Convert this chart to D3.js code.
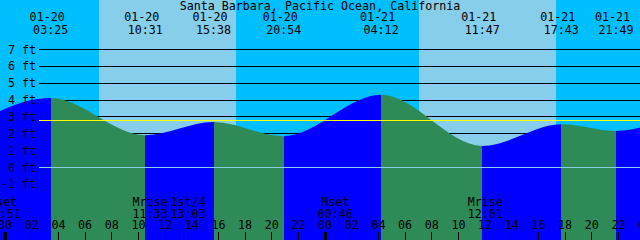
<!DOCTYPE html>
<html>
<head>
<meta charset="utf-8">
<script src="https://cdn.jsdelivr.net/npm/d3@7"></script>
<style>
    html, body { margin: 0; padding: 0; background: #fff; }
    #chart { width: 640px; height: 240px; }
    svg { display: block; }
    text { font-family: "DejaVu Sans Mono", "Liberation Mono", monospace; font-size: 11.67px; fill: #000; }
</style>
</head>
<body>
<div id="chart"></div>
<script>

// station + time window shown
const stationName = "Santa Barbara, Pacific Ocean, California";
const windowStart = "01-19 23:37";
const windowEnd = "01-21 23:37";

// high / low tides (first and last are just outside the window)
const tideDates = ["01-19", "01-20", "01-20", "01-20", "01-20", "01-21", "01-21", "01-21", "01-21", "01-22"];
const tideTimes = ["20:05", "03:25", "10:31", "15:38", "20:54", "04:12", "11:47", "17:43", "21:49", "04:55"];
const tideFeet = [1.8, 4.13, 1.92, 2.70, 1.86, 4.31, 1.28, 2.57, 2.17, 4.4];

// sunrise / sunset
const sunDates = ["01-20", "01-20", "01-21", "01-21"];
const sunTimes = ["07:03", "17:19", "07:03", "17:20"];

// moon events
const moonNames = ["Mset", "Mrise", "1st/4", "Mset", "Mrise"];
const moonDates = ["01-19", "01-20", "01-20", "01-21", "01-21"];
const moonTimes = ["23:51", "11:33", "13:03", "00:46", "12:01"];

// levels
const feetLevels = [-1, 0, 1, 2, 3, 4, 5, 6, 7];
const meanSeaLevel = 2.79;

class TideVis {

    constructor(parentElement) {
        this.parentElement = parentElement;
        this.initVis();
    }

    initVis() {
        let vis = this;

        vis.width = 640;
        vis.height = 240;
        vis.gridLeft = 39;

        vis.svg = d3.select("#" + vis.parentElement)
            .append("svg")
            .attr("width", vis.width)
            .attr("height", vis.height);

        vis.parse = d3.utcParse("%m-%d %H:%M");

        vis.x = d3.scaleUtc()
            .domain([vis.parse(windowStart), vis.parse(windowEnd)])
            .range([0, vis.width]);

        // 0 ft and 7 ft rows
        vis.y = d3.scaleLinear()
            .domain([0, 7])
            .range([167.5, 49.5]);

        vis.wrangleData();
    }

    wrangleData() {
        let vis = this;

        vis.tides = tideTimes.map((t, i) => ({
            time: vis.parse(tideDates[i] + " " + t),
            date: tideDates[i],
            label: t,
            ft: tideFeet[i]
        }));

        vis.sun = sunTimes.map((t, i) => vis.parse(sunDates[i] + " " + t));

        vis.moon = moonTimes.map((t, i) => ({
            time: vis.parse(moonDates[i] + " " + t),
            name: moonNames[i],
            label: t
        }));

        vis.updateVis();
    }

    updateVis() {
        let vis = this;
        let x = vis.x, y = vis.y;
        let crisp = v => Math.floor(v) + 0.5;

        // SKY: night / day bands
        let bounds = [x.domain()[0]].concat(vis.sun, [x.domain()[1]]);
        let bands = d3.pairs(bounds).map((p, i) => ({start: p[0], end: p[1], day: i % 2 === 1}));

        vis.svg.selectAll(".sky")
            .data(bands)
            .enter()
            .append("rect")
            .attr("class", "sky")
            .attr("x", d => Math.round(x(d.start)))
            .attr("y", 0)
            .attr("width", d => Math.round(x(d.end)) - Math.round(x(d.start)))
            .attr("height", vis.height)
            .attr("fill", d => d.day ? "#87CEEB" : "#00BFFF");

        // GRID LINES (under the water)
        vis.svg.selectAll(".grid")
            .data(feetLevels.filter(v => v !== 0))
            .enter()
            .append("line")
            .attr("class", "grid")
            .attr("x1", vis.gridLeft)
            .attr("x2", vis.width)
            .attr("y1", d => crisp(y(d)))
            .attr("y2", d => crisp(y(d)))
            .attr("stroke", "#000")
            .attr("stroke-width", 1);

        // WATER: blue while rising, green while falling
        let area = d3.area()
            .x(d => x(d.time))
            .y0(vis.height)
            .y1(d => y(d.ft))
            .curve(d3.curveMonotoneX);

        let segments = d3.pairs(vis.tides);

        let defs = vis.svg.append("defs");
        defs.selectAll("clipPath")
            .data(segments)
            .enter()
            .append("clipPath")
            .attr("id", (d, i) => "seg" + i)
            .append("rect")
            .attr("x", d => Math.round(x(d[0].time)))
            .attr("y", 0)
            .attr("width", d => Math.round(x(d[1].time)) - Math.round(x(d[0].time)))
            .attr("height", vis.height);

        vis.svg.selectAll(".water")
            .data(segments)
            .enter()
            .append("path")
            .attr("class", "water")
            .attr("clip-path", (d, i) => "url(#seg" + i + ")")
            .attr("d", area(vis.tides))
            .attr("fill", d => d[1].ft > d[0].ft ? "#0000FF" : "#2E8B57");

        // datum and mean sea level lines
        vis.svg.append("line")
            .attr("x1", vis.gridLeft).attr("x2", vis.width)
            .attr("y1", crisp(y(0))).attr("y2", crisp(y(0)))
            .attr("stroke", "#87CEEB");

        vis.svg.append("line")
            .attr("x1", vis.gridLeft).attr("x2", vis.width)
            .attr("y1", crisp(y(meanSeaLevel))).attr("y2", crisp(y(meanSeaLevel)))
            .attr("stroke", "#FFFF00");

        // FEET LABELS
        vis.svg.selectAll(".ftLabel")
            .data(feetLevels)
            .enter()
            .append("text")
            .attr("class", "ftLabel")
            .attr("x", 36)
            .attr("y", d => y(d) + 4)
            .attr("text-anchor", "end")
            .text(d => d + " ft");

        // TITLE
        vis.svg.append("text")
            .attr("x", vis.width / 2)
            .attr("y", 10)
            .attr("text-anchor", "middle")
            .text(stationName);

        // HIGH / LOW TIME LABELS
        let inView = vis.tides.filter(d => d.time >= x.domain()[0] && d.time <= x.domain()[1]);

        vis.svg.selectAll(".tideDate")
            .data(inView)
            .enter()
            .append("text")
            .attr("class", "tideDate")
            .attr("x", d => x(d.time) - 3.5)
            .attr("y", 21)
            .attr("text-anchor", "middle")
            .text(d => d.date);

        vis.svg.selectAll(".tideTime")
            .data(inView)
            .enter()
            .append("text")
            .attr("class", "tideTime")
            .attr("x", d => x(d.time))
            .attr("y", 34)
            .attr("text-anchor", "middle")
            .text(d => d.label);

        // MOON LABELS, pushed apart when they collide
        let labelSpan = 38;
        let placed = vis.moon.map(d => Object.assign({cx: x(d.time)}, d));
        for (let i = 1; i < placed.length; i++) {
            let gap = placed[i].cx - placed[i - 1].cx;
            if (gap < labelSpan) {
                let shift = (labelSpan - gap) / 2;
                placed[i - 1].cx -= shift;
                placed[i].cx += shift;
            }
        }

        vis.svg.selectAll(".moonName")
            .data(placed)
            .enter()
            .append("text")
            .attr("class", "moonName")
            .attr("x", d => d.cx)
            .attr("y", 206)
            .attr("text-anchor", "middle")
            .text(d => d.name);

        vis.svg.selectAll(".moonTime")
            .data(placed)
            .enter()
            .append("text")
            .attr("class", "moonTime")
            .attr("x", d => d.cx)
            .attr("y", 217.5)
            .attr("text-anchor", "middle")
            .text(d => d.label);

        // HOUR AXIS
        let hours = d3.utcHour.every(2).range(x.domain()[0], d3.utcHour.offset(x.domain()[1], 2));

        vis.svg.selectAll(".hourLabel")
            .data(hours)
            .enter()
            .append("text")
            .attr("class", "hourLabel")
            .attr("x", d => x(d))
            .attr("y", 229)
            .attr("text-anchor", "middle")
            .text(d3.utcFormat("%H"));

        vis.svg.selectAll(".hourTick")
            .data(hours)
            .enter()
            .append("line")
            .attr("class", "hourTick")
            .attr("x1", d => crisp(x(d)))
            .attr("x2", d => crisp(x(d)))
            .attr("y1", 232)
            .attr("y2", vis.height)
            .attr("stroke", "#000")
            .attr("stroke-width", d => d.getUTCHours() === 0 ? 3 : 1);

        vis.svg.selectAll(".moonTick")
            .data(vis.moon)
            .enter()
            .append("line")
            .attr("class", "moonTick")
            .attr("x1", d => crisp(x(d.time)))
            .attr("x2", d => crisp(x(d.time)))
            .attr("y1", 232)
            .attr("y2", vis.height)
            .attr("stroke", "#000")
            .attr("stroke-width", 1);
    }
}

new TideVis("chart");
</script>
</body>
</html>
